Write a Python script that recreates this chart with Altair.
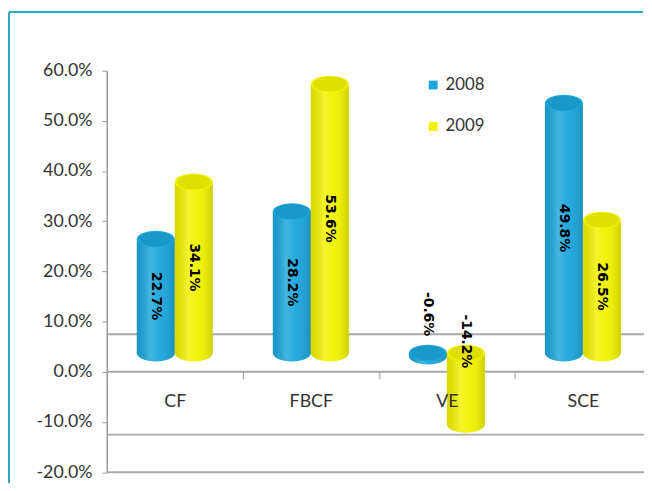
import altair as alt
import pandas as pd

# ---------------- data ----------------
categories = ["CF", "FBCF", "VE", "SCE"]
years = ["2008", "2009"]
values_2008 = [22.7, 28.2, -0.6, 49.8]
values_2009 = [34.1, 53.6, -14.2, 26.5]
y_ticks = [-20, -10, 0, 10, 20, 30, 40, 50, 60]
floor_levels = [0, -20]

rows = []
for i, c in enumerate(categories):
    for yr, vals in (("2008", values_2008), ("2009", values_2009)):
        v = vals[i]
        rows.append({"cat": c, "year": yr, "value": v, "label": f"{v:.1f}%"})
df = pd.DataFrame(rows)
floor_df = pd.DataFrame({"level": floor_levels})
one = pd.DataFrame({"k": [0]})

# ---------------- styling ----------------
W, H = 544, 406.5
DEPTH = 38
MID = DEPTH / 2
BLUE = "#1ca6dc"
YELLOW = "#f2f200"
FONT = "Lato, sans-serif"
ELL = "M-1,0A1,0.44,0,1,1,1,0A1,0.44,0,1,1,-1,0Z"
BAR_W = 551 / 4 / 3.58
SYM = BAR_W * BAR_W

x_axis = alt.Axis(title=None, domain=False, tickBand="extent", tickSize=7,
                  tickColor="#9a9a9a", labelFontSize=18, labelFont=FONT,
                  labelColor="#333333", labelPadding=14, labelAngle=0,
                  zindex=1, offset=-(H - H * 60 / 80))
y_axis = alt.Axis(title=None, values=y_ticks, grid=False,
                  labelExpr="replace(format(datum.value, '.1f'), '\u2212', '-') + '%'",
                  tickSize=5, tickColor="#9a9a9a", domainColor="#9a9a9a",
                  domainWidth=1.5, labelFontSize=18, labelFont=FONT,
                  labelColor="#333333", labelPadding=10)
y_scale = alt.Scale(domain=[-20, 60], nice=False, zero=False)

x_enc = alt.X("cat:N", sort=categories,
              scale=alt.Scale(domain=categories, range=[0, 551],
                              paddingInner=0, paddingOuter=0),
              axis=x_axis)
xo_enc = alt.XOffset("year:N", sort=years,
                     scale=alt.Scale(domain=years, paddingInner=0, paddingOuter=0.79))
color_enc = alt.Color("year:N", sort=years,
                      scale=alt.Scale(domain=years, range=[BLUE, YELLOW]),
                      legend=alt.Legend(orient="none", legendX=322, legendY=6,
                                        title=None, symbolType="square",
                                        symbolSize=80, symbolStrokeWidth=0,
                                        labelFontSize=17, labelFont=FONT,
                                        labelColor="#333333", rowPadding=24,
                                        labelOffset=4))

def Y(field):
    return alt.Y(field, scale=y_scale, axis=y_axis)

shade = alt.LinearGradient(
    gradient="linear", x1=0, x2=1, y1=0, y2=0,
    stops=[alt.GradientStop(offset=0, color="rgba(0,0,0,0.10)"),
           alt.GradientStop(offset=0.35, color="rgba(255,255,255,0.18)"),
           alt.GradientStop(offset=0.6, color="rgba(255,255,255,0.04)"),
           alt.GradientStop(offset=1, color="rgba(0,0,0,0.14)")])

base = alt.Chart(df).transform_calculate(
    top="max(datum.value, 0)",
    bot="min(datum.value, 0)",
    ly="datum.value > 0 ? datum.value / 2 : 8 + datum.value * 0.4",
)

# floor / wall lines
floor_front = alt.Chart(floor_df).mark_rule(color="#a8a8a8", strokeWidth=2).encode(
    y=Y("level:Q"), x=alt.value(0), x2=alt.value(W))
floor_back = alt.Chart(floor_df).mark_rule(color="#a8a8a8", strokeWidth=2,
                                           yOffset=-DEPTH).encode(
    y=Y("level:Q"), x=alt.value(0), x2=alt.value(W))

# frame
frame_top = alt.Chart(one).mark_rule(color="#2aa8cc", strokeWidth=2).encode(
    x=alt.value(-99), x2=alt.value(W - 1), y=alt.value(-59.5))
frame_left = alt.Chart(one).mark_rule(color="#2aa8cc", strokeWidth=2).encode(
    x=alt.value(-99), y=alt.value(-59.5), y2=alt.value(H + 30))

bottom_cap = base.mark_point(shape=ELL, size=SYM, filled=True, opacity=1,
                             strokeWidth=0, yOffset=-MID).encode(
    x=x_enc, xOffset=xo_enc, y=Y("bot:Q"), color=color_enc)
bottom_shade = base.mark_point(shape=ELL, size=SYM, filled=True, opacity=1,
                               strokeWidth=0, yOffset=-MID, fill=shade).encode(
    x=x_enc, xOffset=xo_enc, y=Y("bot:Q"))
body = base.mark_bar(yOffset=-MID, y2Offset=-MID).encode(
    x=x_enc, xOffset=xo_enc, y=Y("top:Q"), y2="bot:Q", color=color_enc)
body_shade = base.mark_bar(yOffset=-MID, y2Offset=-MID, fill=shade).encode(
    x=x_enc, xOffset=xo_enc, y=Y("top:Q"), y2="bot:Q")
top_cap = base.mark_point(shape=ELL, size=SYM, filled=True, opacity=1,
                          strokeWidth=0, yOffset=-MID).encode(
    x=x_enc, xOffset=xo_enc, y=Y("top:Q"), color=color_enc)
top_dark = base.mark_point(shape=ELL, size=SYM * 0.8, filled=True, opacity=0.08,
                           color="black", strokeWidth=0, yOffset=-MID).encode(
    x=x_enc, xOffset=xo_enc, y=Y("top:Q"))

labels = base.mark_text(angle=90, fontWeight="bold", fontSize=14,
                        font="DejaVu Sans", color="black", align="center",
                        baseline="middle", yOffset=-MID).encode(
    x=x_enc, xOffset=xo_enc, y=Y("ly:Q"), text="label:N")

chart = alt.layer(
    floor_front, floor_back, frame_top, frame_left,
    bottom_cap, bottom_shade, body, body_shade, top_cap, top_dark, labels
).properties(
    width=W, height=H,
    autosize=alt.AutoSizeParams(type="none"),
    padding={"left": 100, "top": 60.5, "right": 0, "bottom": 8},
    background="white",
).configure_view(stroke=None)

chart.save("out.html", embed_options={"renderer": "svg", "actions": False})
